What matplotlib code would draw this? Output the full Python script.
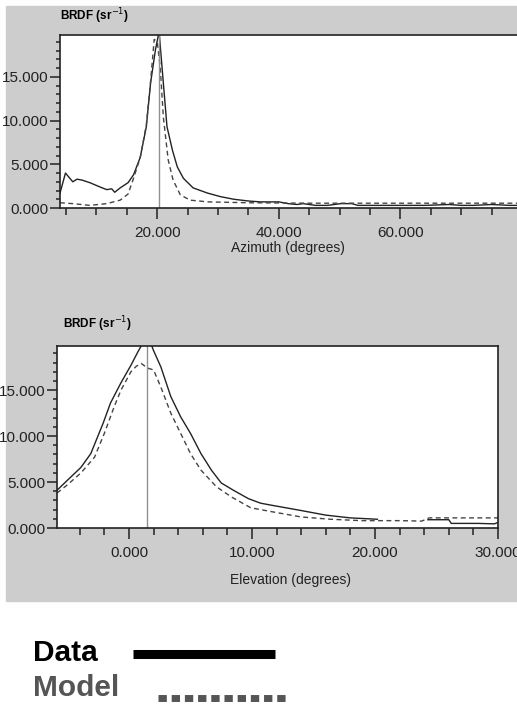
import numpy as np
import matplotlib
matplotlib.use("Agg")
import matplotlib.pyplot as plt
from matplotlib.patches import Rectangle
from matplotlib.lines import Line2D
from matplotlib.ticker import MultipleLocator, FormatStrFormatter

plt.rcParams['font.family'] = ['Liberation Sans', 'DejaVu Sans']

# azimuth scan (top panel)
az_x = [4.0, 4.9, 6.1, 6.8, 7.6, 8.9, 10.6, 11.7, 12.5, 13.0, 13.9, 15.2, 16.1, 17.2,
        18.2, 18.9, 19.7, 20.3, 21.0, 21.6, 22.5, 23.3, 24.3, 25.9, 28.3, 30.4, 32.6,
        35.0, 37.0, 38.5, 40.0, 41.5, 43.0, 44.0, 46.0, 48.0, 50.2, 52.0, 53.0, 56.0,
        60.0, 64.0, 68.0, 70.0, 72.0, 75.0, 78.0, 80.0]
az_data = [1.7, 4.0, 3.0, 3.3, 3.2, 2.9, 2.4, 2.1, 2.2, 1.8, 2.3, 2.9, 3.8, 5.8,
           9.3, 14.3, 18.1, 20.2, 14.3, 9.3, 6.6, 4.7, 3.4, 2.3, 1.7, 1.3, 1.0,
           0.8, 0.7, 0.7, 0.7, 0.5, 0.4, 0.5, 0.3, 0.3, 0.5, 0.5, 0.3, 0.3,
           0.3, 0.3, 0.4, 0.3, 0.3, 0.4, 0.3, 0.3]
az_mx = [4.0, 6.1, 8.9, 11.7, 13.9, 15.2, 16.1, 17.2, 18.2, 18.9, 19.5, 20.0, 20.5,
         21.0, 21.8, 22.6, 23.8, 25.4, 28.3, 35.0, 45.0, 55.0, 65.0, 80.0]
az_model = [0.6, 0.5, 0.3, 0.5, 0.9, 1.6, 3.4, 5.8, 9.5, 14.5, 19.3, 19.0, 16.0,
            10.4, 5.5, 3.2, 1.5, 0.9, 0.7, 0.6, 0.55, 0.55, 0.55, 0.55]
az_peak = 20.3

# elevation scan (bottom panel)
el_x = [-5.85, -5.0, -3.9, -3.1, -2.1, -1.5, -0.65, 0.16, 0.7, 1.2, 1.8, 2.0, 2.6,
        3.4, 4.2, 5.0, 5.85, 6.7, 7.5, 8.5, 9.7, 10.7, 11.5, 14.0, 16.0, 18.0, 20.2,
        np.nan, 24.3, 26.0, 26.2, 28.4, 29.7, 30.0]
el_data = [4.1, 5.2, 6.6, 8.1, 11.4, 13.6, 15.8, 17.7, 19.1, 20.3, 20.0, 19.3, 17.5,
           14.3, 12.1, 10.3, 8.1, 6.3, 4.9, 4.1, 3.2, 2.7, 2.5, 1.9, 1.4, 1.1, 0.95,
           np.nan, 0.9, 0.9, 0.5, 0.5, 0.45, 0.6]
el_mx = [-5.85, -5.0, -3.9, -2.8, -2.0, -1.2, -0.65, 0.16, 0.6, 1.0, 1.5, 2.0, 2.6,
         3.4, 4.2, 5.0, 5.85, 7.1, 8.3, 9.9, 10.7, 11.5, 14.0, 16.4, 18.9, 22.1,
         23.8, 24.4, 27.0, 30.0]
el_model = [3.8, 4.7, 6.0, 7.7, 10.3, 13.2, 15.0, 17.0, 17.6, 17.9, 17.4, 17.2, 15.3,
            12.5, 10.3, 8.1, 6.3, 4.5, 3.4, 2.2, 2.0, 1.8, 1.2, 0.95, 0.8, 0.8,
            0.75, 1.1, 1.1, 1.1]
el_peak = 1.46

W, H = 517, 706
fig = plt.figure(figsize=(W / 100, H / 100), dpi=100)
fig.patches.append(Rectangle((6 / W, 1 - 601 / H), 1, 595 / H,
                             transform=fig.transFigure, color='#cdcdcd', zorder=-10))


def px_axes(l, t, r, b):
    return fig.add_axes([l / W, 1 - b / H, (r - l) / W, (b - t) / H])


def style(ax, xmaj, xmin):
    ax.set_facecolor('white')
    ax.set_ylim(0, 19.8)
    ax.yaxis.set_major_locator(MultipleLocator(5))
    ax.yaxis.set_minor_locator(MultipleLocator(1))
    ax.xaxis.set_major_locator(MultipleLocator(xmaj))
    ax.xaxis.set_minor_locator(MultipleLocator(xmin))
    ax.yaxis.set_major_formatter(FormatStrFormatter('%.3f'))
    ax.xaxis.set_major_formatter(FormatStrFormatter('%.3f'))
    ax.tick_params(which='major', direction='out', length=7, width=1.1,
                   labelsize=11, color='#222222', labelcolor='#222222')
    ax.tick_params(which='minor', direction='out', length=3, width=1.1, color='#222222')
    ax.tick_params(axis='x', which='major', length=8, pad=5)
    ax.tick_params(axis='x', which='minor', length=5)
    ax.tick_params(axis='y', which='major', pad=1.5)
    for s in ax.spines.values():
        s.set_linewidth(1.2)
        s.set_color('#222222')


# top panel
ax1 = px_axes(60, 35, 522, 208)
ax1.plot(az_x, az_data, color='#222222', lw=1.0)
ax1.plot(az_mx, az_model, color='#444444', lw=1.0, ls=(0, (3.5, 2.5)))
ax1.axvline(az_peak, color='#909090', lw=1.0)
ax1.set_xlim(4, 80)
style(ax1, 20, 5)
ax1.set_xticks([20, 40, 60])
ax1.set_xlabel('Azimuth (degrees)', fontsize=10, color='#222222', va='top')
ax1.xaxis.set_label_coords((288 - 60) / 462, -(241 - 208) / 173)
fig.text(60 / W, 1 - 16 / H, 'BRDF (sr$^{-1}$)', weight='bold', fontsize=8.5,
         va='center', ha='left')

# bottom panel
ax2 = px_axes(57, 346, 498, 528)
ax2.plot(el_x, el_data, color='#222222', lw=1.0)
ax2.plot(el_mx, el_model, color='#444444', lw=1.0, ls=(0, (3.5, 2.5)))
ax2.axvline(el_peak, color='#909090', lw=1.0)
ax2.set_xlim(-5.85, 30)
style(ax2, 10, 2)
ax2.set_xlabel('Elevation (degrees)', fontsize=10, color='#222222', va='top')
ax2.xaxis.set_label_coords((290 - 57) / 441, -(573 - 528) / 182)
fig.text(63 / W, 1 - 324 / H, 'BRDF (sr$^{-1}$)', weight='bold', fontsize=8.5,
         va='center', ha='left')

# legend
fig.text(33 / W, 1 - 653 / H, 'Data', weight='bold', fontsize=21.5,
         va='center', ha='left', color='black')
fig.text(33 / W, 1 - 688 / H, 'Model', weight='bold', fontsize=21.5,
         va='center', ha='left', color='#555555')
fig.lines.append(Line2D([133 / W, 275 / W], [1 - 654 / H] * 2, transform=fig.transFigure,
                        color='black', lw=6.5, solid_capstyle='butt'))
fig.lines.append(Line2D([158 / W, 286 / W], [1 - 698 / H] * 2, transform=fig.transFigure,
                        color='#555555', lw=5, ls=(0, (1.2, 0.7)), dash_capstyle='butt'))

fig.savefig('out.png', dpi=100)
